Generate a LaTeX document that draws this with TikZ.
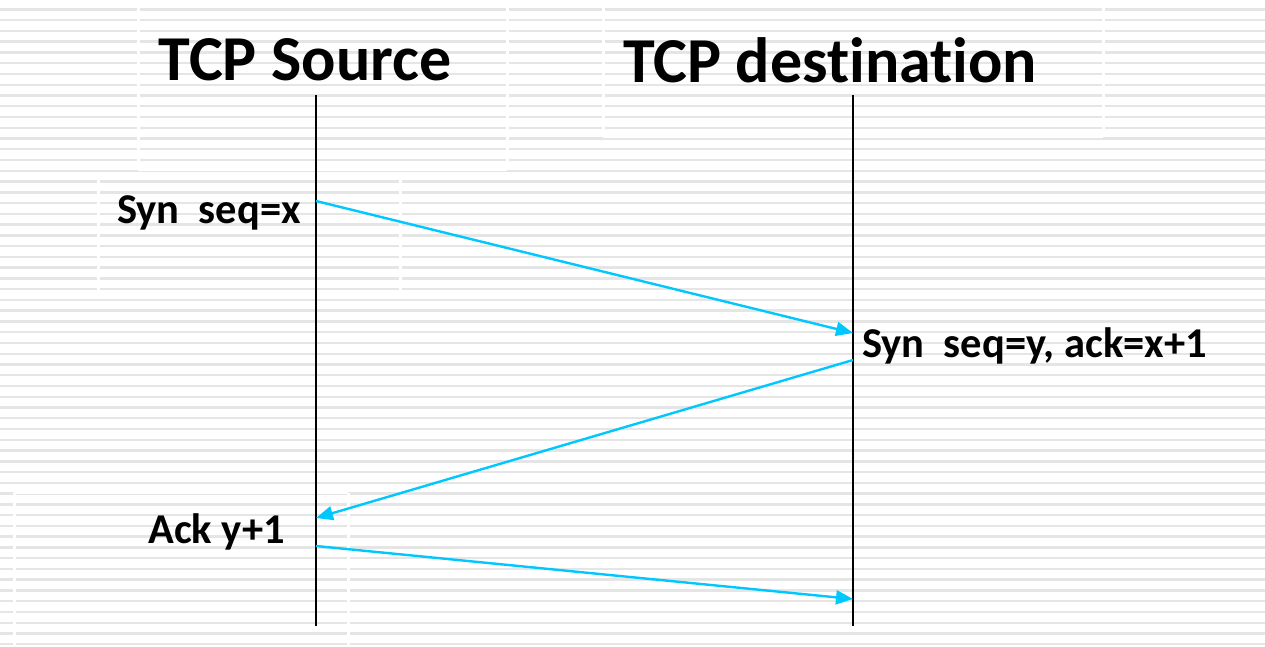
\documentclass[tikz,border=0pt]{standalone}
\usepackage{fontspec}
\setmainfont{Carlito}[Ligatures=NoCommon]
\usetikzlibrary{arrows.meta}
\definecolor{stripe}{RGB}{229,229,229}
\definecolor{msg}{RGB}{0,200,255}
\tikzset{
  lifeline/.style={draw=black, line width=2pt},
  message/.style={draw=msg, line width=2.4pt, -{Triangle[length=17pt,width=14pt]}},
  title/.style={font=\bfseries\fontsize{64}{70}\selectfont, inner sep=0pt},
  label/.style={font=\bfseries\fontsize{42.5}{48}\selectfont, inner sep=0pt},
}
\begin{document}
\begin{tikzpicture}[x=1pt,y=-1pt]
  \useasboundingbox (0,0) rectangle (1265,646);
  % ruled paper background
  \fill[white] (0,0) rectangle (1265,646);
  \foreach \i in {0,...,59}{
    \fill[stripe] (0,{8.2+10.76*\i}) rectangle (1265,{10.6+10.76*\i});
  }
  % faint seams of the text boxes
  \foreach \xa/\ya/\yb in {138/0/170, 507/0/170, 603/0/137, 1103/0/137, 98/178/290, 400/178/290, 14/493/646, 348/493/646}{
    \fill[white] (\xa-1,\ya) rectangle (\xa+1.5,\yb);
  }
  \fill[white] (138,168) rectangle (507,171);
  \fill[white] (603,135) rectangle (1103,138);
  \fill[white] (98,176) rectangle (400,179);
  \fill[white] (14,491) rectangle (348,494);

  % headings
  \node[title] (src) at (305,60) {TCP Source};
  \node[title] (dst) at (830,60) {TCP destination};

  % lifelines
  \coordinate (srcTop) at (316,95);
  \coordinate (srcBot) at (316,626);
  \coordinate (dstTop) at (853,95);
  \coordinate (dstBot) at (853,626);
  \draw[lifeline] (srcTop) -- (srcBot);
  \draw[lifeline] (dstTop) -- (dstBot);

  % message end points on the lifelines
  \coordinate (m1s) at (316,201);
  \coordinate (m1e) at (853,333);
  \coordinate (m2s) at (853,360);
  \coordinate (m2e) at (316,518);
  \coordinate (m3s) at (316,546);
  \coordinate (m3e) at (853,599);

  \draw[message] (m1s) -- (m1e);
  \draw[message] (m2s) -- (m2e);
  \draw[message] (m3s) -- (m3e);

  % message labels
  \node[label, anchor=base east] (l1) at (301,223) {Syn\ \ seq=x};
  \node[label, anchor=base west] (l2) at (862,357) {Syn\ \ seq=y, ack=x+1};
  \node[label, anchor=base east] (l3) at (285,543) {Ack y+1};
\end{tikzpicture}
\end{document}
